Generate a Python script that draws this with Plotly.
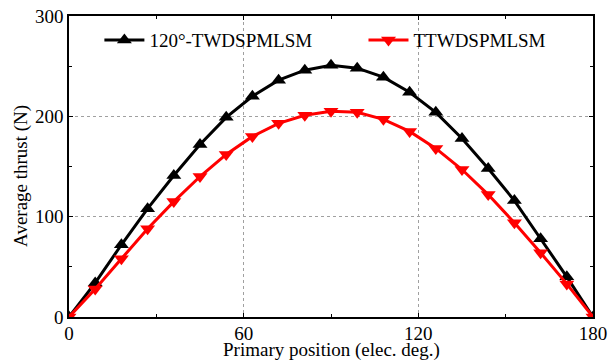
import plotly.graph_objects as go

positions = [0, 9, 18, 27, 36, 45, 54, 63, 72, 81, 90, 99, 108, 117, 126, 135, 144, 153, 162, 171, 180]
thrust_120 = [0, 34, 72, 108, 141, 172, 199, 220, 236, 246, 251, 248, 239, 224, 204, 178, 148, 116, 78, 40, 0]
thrust_tt = [0, 28, 58, 88, 115, 140, 162, 180, 193, 201, 205, 204, 197, 185, 168, 147, 122, 94, 64, 33, 0]
x_ticks = [0, 60, 120, 180]
y_ticks = [0, 100, 200, 300]
x_title = "Primary position (elec. deg.)"
y_title = "Average thrust (N)"

fig = go.Figure()
fig.add_trace(go.Scatter(x=positions, y=thrust_120, mode="lines+markers", name="120°-TWDSPMLSM",
                         line=dict(color="black", width=3),
                         marker=dict(symbol="triangle-up", size=13, color="black"),
                         legend="legend", showlegend=True))
fig.add_trace(go.Scatter(x=positions, y=thrust_tt, mode="lines+markers", name="TTWDSPMLSM",
                         line=dict(color="#ff0000", width=3),
                         marker=dict(symbol="triangle-down", size=13, color="#ff0000"),
                         legend="legend2", showlegend=True))

fam = "Liberation Serif"
tick_font = dict(family=fam, size=19, color="black")
title_font = dict(family=fam, size=19, color="black")
leg_font = dict(family=fam, size=19, color="black")
axis_common = dict(showline=True, linecolor="black", linewidth=1.5, mirror="ticks",
                   ticks="inside", ticklen=4, tickcolor="black", zeroline=False,
                   showgrid=True, gridcolor="#a0a0a0", griddash="dot", gridwidth=1,
                   tickfont=tick_font, automargin=False)
fig.update_xaxes(range=[0, 180], tickvals=x_ticks, ticklabelstandoff=-2,
                 minor=dict(tickvals=[30, 90, 150], ticks="inside", ticklen=3, tickcolor="black", showgrid=False),
                 **axis_common)
fig.update_yaxes(range=[0, 300], tickvals=y_ticks,
                 minor=dict(tickvals=[50, 150, 250], ticks="inside", ticklen=3, tickcolor="black", showgrid=False),
                 **axis_common)
fig.add_annotation(text=x_title, xref="paper", yref="paper", x=0.5, y=-0.11,
                   xanchor="center", yanchor="middle", showarrow=False, font=title_font)
fig.add_annotation(text=y_title, xref="paper", yref="paper", x=-0.092, y=0.468, textangle=-90,
                   xanchor="center", yanchor="middle", showarrow=False, font=title_font)
leg_common = dict(orientation="h", yanchor="middle", y=0.92, xanchor="left",
                  bgcolor="rgba(0,0,0,0)", itemwidth=40, font=leg_font, visible=True)
fig.update_layout(width=610, height=362, margin=dict(l=69, r=17, t=16, b=45, autoexpand=False),
                  plot_bgcolor="white", paper_bgcolor="white", font=tick_font, showlegend=True,
                  legend=dict(x=0.058, **leg_common),
                  legend2=dict(x=0.562, **leg_common))
fig.write_html("out.html")
